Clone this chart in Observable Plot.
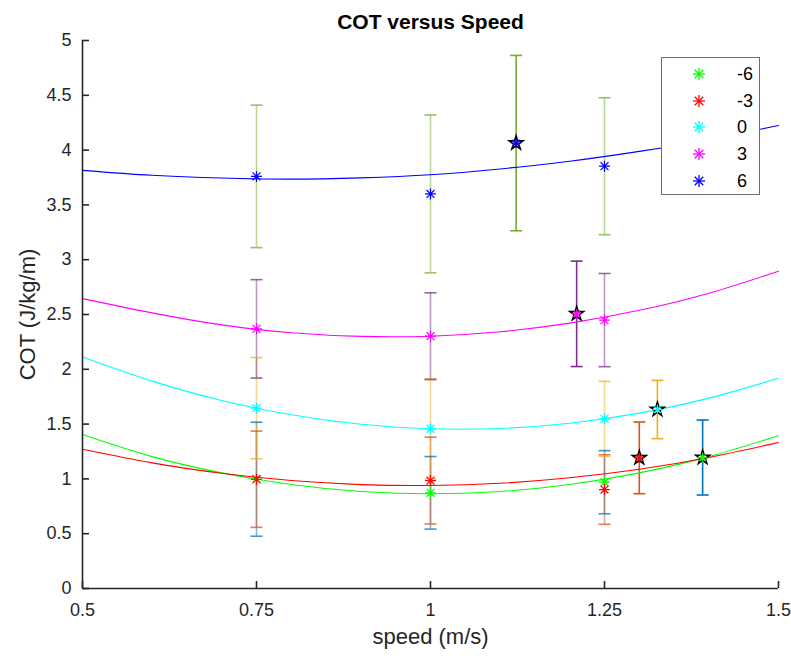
<!DOCTYPE html>
<html><head><meta charset="utf-8">
<script src="https://cdn.jsdelivr.net/npm/d3@7"></script>
<script src="https://cdn.jsdelivr.net/npm/@observablehq/plot@0.6"></script>
<style>
body{margin:0;background:#fff;}
#wrap{position:relative;width:791px;height:656px;font-family:"Liberation Sans",Arial,Helvetica,sans-serif;}
#legend{position:absolute;left:661px;top:57px;width:99px;height:138px;border:1px solid #6e6e6e;background:#fff;box-sizing:border-box;}
.row{position:absolute;left:0;width:97px;height:20px;}
.row svg{position:absolute;left:29px;top:2px;}
.row span{position:absolute;left:75px;top:0;font-size:18px;line-height:20px;color:#000;}
</style></head>
<body><div id="wrap"><div id="chart"></div><div id="legend"></div></div>
<script>
// ---- data ----
const speeds = [0.75, 1.0, 1.25];
const groups = ["-6", "-3", "0", "3", "6"];
const markerColors = ["#00FF00", "#FF0000", "#00FFFF", "#FF00FF", "#0000FF"];
const barColors = ["#0072BD", "#D95319", "#EDB120", "#7E2F8E", "#77AC30"];

const cotM6 = [0.997, 0.873, 0.970];
const cotM3 = [0.997, 0.985, 0.903];
const cot0  = [1.645, 1.457, 1.548];
const cotP3 = [2.369, 2.302, 2.449];
const cotP6 = [3.760, 3.600, 3.853];

const errM6 = [0.520, 0.331, 0.288];
const errM3 = [0.439, 0.396, 0.317];
const err0  = [0.462, 0.457, 0.342];
const errP3 = [0.449, 0.396, 0.425];
const errP6 = [0.650, 0.720, 0.625];

// starred points (one per group)
const prefSpeed = [1.391, 1.300, 1.326, 1.210, 1.123];
const prefCOT   = [1.195, 1.192, 1.633, 2.506, 4.064];
const prefErr   = [0.342, 0.327, 0.266, 0.481, 0.800];

// fitted curves
const fitSpeed = [0.5, 0.6, 0.7, 0.8, 0.9, 1.0, 1.1, 1.2, 1.3, 1.4, 1.5];
const fitM6 = [1.405, 1.203, 1.055, 0.949, 0.885, 0.864, 0.885, 0.949, 1.055, 1.203, 1.394];
const fitM3 = [1.270, 1.146, 1.051, 0.985, 0.948, 0.940, 0.960, 1.010, 1.088, 1.196, 1.332];
const fit0  = [2.112, 1.892, 1.716, 1.585, 1.499, 1.457, 1.460, 1.508, 1.600, 1.737, 1.918];
const fitP3 = [2.645, 2.515, 2.405, 2.333, 2.300, 2.302, 2.342, 2.421, 2.538, 2.694, 2.895];
const fitP6 = [3.815, 3.770, 3.745, 3.735, 3.747, 3.775, 3.828, 3.898, 3.988, 4.095, 4.225];

const xTicks = [0.5, 0.75, 1, 1.25, 1.5];
const xTickLabels = ["0.5", "0.75", "1", "1.25", "1.5"];
const yTicks = [0, 0.5, 1, 1.5, 2, 2.5, 3, 3.5, 4, 4.5, 5];
const yTickLabels = ["0", "0.5", "1", "1.5", "2", "2.5", "3", "3.5", "4", "4.5", "5"];

const titleText = "COT versus Speed";
const xLabel = "speed (m/s)";
const yLabel = "COT (J/kg/m)";

// ---- build tables ----
const cots = [cotM6, cotM3, cot0, cotP3, cotP6];
const errs = [errM6, errM3, err0, errP3, errP6];
const fits = [fitM6, fitM3, fit0, fitP3, fitP6];

const means = [];
groups.forEach((g, gi) => speeds.forEach((s, si) => means.push({
  group: g, speed: s, cot: cots[gi][si], err: errs[gi][si],
  mcolor: markerColors[gi], bcolor: barColors[gi]
})));
const prefs = groups.map((g, gi) => ({
  group: g, speed: prefSpeed[gi], cot: prefCOT[gi], err: prefErr[gi],
  mcolor: markerColors[gi], bcolor: barColors[gi]
}));
const fitRows = [];
groups.forEach((g, gi) => fitSpeed.forEach((s, si) => fitRows.push({
  group: g, speed: s, cot: fits[gi][si], mcolor: markerColors[gi]
})));

// MATLAB-like '*' marker (plus + times)
const asterisk = {
  draw(ctx, size) {
    const r = Math.sqrt(size / Math.PI), d = r * 0.72;
    ctx.moveTo(-r, 0); ctx.lineTo(r, 0);
    ctx.moveTo(0, -r); ctx.lineTo(0, r);
    ctx.moveTo(-d, -d); ctx.lineTo(d, d);
    ctx.moveTo(-d, d); ctx.lineTo(d, -d);
  }
};
const cap = {
  draw(ctx, size) {
    const r = Math.sqrt(size / Math.PI);
    ctx.moveTo(-r, 0); ctx.lineTo(r, 0);
  }
};

const axisColor = "#262626";
const font = '"Liberation Sans", Arial, Helvetica, sans-serif';

const errorBars = (data, opacity, capOpacity) => [
  Plot.ruleX(data, {x: "speed", y1: d => d.cot - d.err, y2: d => d.cot + d.err,
    stroke: "bcolor", strokeWidth: 1.6, strokeOpacity: opacity}),
  Plot.dot(data, {x: "speed", y: d => d.cot + d.err, symbol: cap, r: 6,
    fill: "none", stroke: "bcolor", strokeWidth: 1.6, strokeOpacity: capOpacity}),
  Plot.dot(data, {x: "speed", y: d => d.cot - d.err, symbol: cap, r: 6,
    fill: "none", stroke: "bcolor", strokeWidth: 1.6, strokeOpacity: capOpacity})
];

const chart = Plot.plot({
  width: 791,
  height: 656,
  marginLeft: 82,
  marginRight: 13,
  marginTop: 40,
  marginBottom: 68,
  style: {fontFamily: font, color: axisColor, background: "transparent", overflow: "visible"},
  x: {domain: [0.5, 1.5]},
  y: {domain: [0, 5]},
  color: {type: "identity"},
  marks: [
    ...errorBars(means, 0.5, 0.75),
    ...errorBars(prefs, 1, 1),
    Plot.line(fitRows, {x: "speed", y: "cot", z: "group", stroke: "mcolor", strokeWidth: 1.1, curve: "natural"}),
    Plot.dot(means, {x: "speed", y: "cot", symbol: asterisk, r: 5.5, fill: "none", stroke: "mcolor", strokeWidth: 1.2}),
    Plot.dot(prefs, {x: "speed", y: "cot", symbol: "star", r: 4.3, fill: "none", stroke: "#000", strokeWidth: 1.6}),
    Plot.dot(prefs, {x: "speed", y: "cot", symbol: asterisk, r: 4.8, fill: "none", stroke: "mcolor", strokeWidth: 1.2}),
    Plot.ruleX([0.5], {stroke: axisColor, strokeWidth: 1.6}),
    Plot.ruleY([0], {stroke: axisColor, strokeWidth: 1.6}),
    Plot.axisX({ticks: xTicks, tickFormat: (d, i) => xTickLabels[i], tickSize: -7, tickPadding: 22,
      strokeWidth: 1.6, fontSize: 18, label: null, fill: axisColor, stroke: axisColor}),
    Plot.axisY({ticks: yTicks, tickFormat: (d, i) => yTickLabels[i], tickSize: -7, tickPadding: 18,
      strokeWidth: 1.6, fontSize: 18, label: null, fill: axisColor, stroke: axisColor}),
    Plot.text([xLabel], {frameAnchor: "bottom", lineAnchor: "middle", dy: 48, fontSize: 22, fill: axisColor}),
    Plot.text([yLabel], {frameAnchor: "left", textAnchor: "middle", lineAnchor: "middle", dx: -55, rotate: -90, fontSize: 22, fill: axisColor}),
    Plot.text([titleText], {frameAnchor: "top", lineAnchor: "middle", dy: -18, fontSize: 21, fontWeight: "bold", fill: "#000"})
  ]
});
document.getElementById("chart").appendChild(chart);

// legend
const legend = document.getElementById("legend");
groups.forEach((g, i) => {
  const row = document.createElement("div");
  row.className = "row";
  row.style.top = (6 + 26.7 * i) + "px";
  const c = markerColors[i];
  row.innerHTML = `<svg width="16" height="16" viewBox="-8 -8 16 16"><g stroke="${c}" stroke-width="1.3" fill="none">
    <line x1="-6" y1="0" x2="6" y2="0"/><line x1="0" y1="-6" x2="0" y2="6"/>
    <line x1="-4.3" y1="-4.3" x2="4.3" y2="4.3"/><line x1="-4.3" y1="4.3" x2="4.3" y2="-4.3"/></g></svg><span>${g}</span>`;
  legend.appendChild(row);
});
</script>
</body></html>
